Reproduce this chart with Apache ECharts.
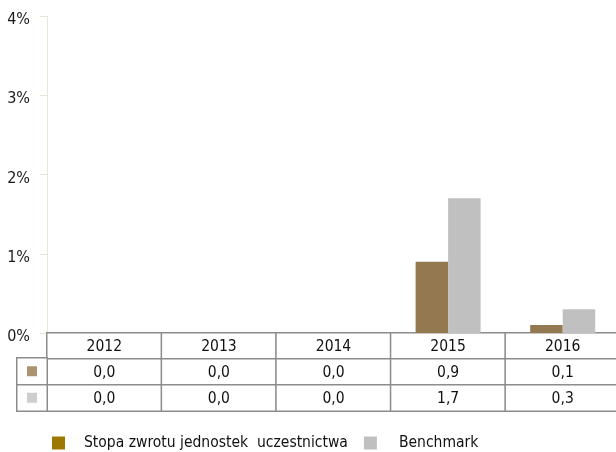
<!DOCTYPE html>
<html>
<head>
<meta charset="utf-8">
<script src="https://cdn.jsdelivr.net/npm/echarts@6/dist/echarts.min.js"></script>
<style>
html,body{margin:0;padding:0;background:#fff;}
#c{width:616px;height:452px;}
</style>
</head>
<body>
<div id="c"></div>
<script>
var categories = ['2012', '2013', '2014', '2015', '2016'];
var seriesNames = ['Stopa zwrotu jednostek  uczestnictwa', 'Benchmark'];
var fundValues = [0.0, 0.0, 0.0, 0.9, 0.1];
var benchValues = [0.0, 0.0, 0.0, 1.7, 0.3];
var yTicks = [0, 1, 2, 3, 4];

var FONT = '"DejaVu Sans Condensed", "DejaVu Sans", sans-serif';
var fundColor = '#947850';
var benchColor = '#c0c0c0';
var lineCol = '#8c8c8c';

function fmt(v) { return v.toFixed(1).replace('.', ','); }

var tableCells = [];
categories.forEach(function (c, i) {
  tableCells.push([i, 2, 0]);
  tableCells.push([i, 1, fundValues[i]]);
  tableCells.push([i, 0, benchValues[i]]);
});
var rowTexts = [
  benchValues.map(fmt),
  fundValues.map(fmt),
  categories
];

var chart = echarts.init(document.getElementById('c'));
chart.setOption({
  animation: false,
  backgroundColor: '#fff',
  textStyle: { fontFamily: FONT },
  legend: {
    left: 52, top: 435, padding: 0,
    icon: 'rect',
    itemWidth: 13, itemHeight: 13, itemGap: 16,
    selectedMode: false,
    data: [
      { name: seriesNames[0], itemStyle: { color: '#9c7800', borderWidth: 0 } },
      { name: seriesNames[1], itemStyle: { color: '#c0c0c0', borderWidth: 0 } }
    ],
    formatter: function (n) { return n === seriesNames[0] ? '{a|' + n + '}' : '{b|' + n + '}'; },
    textStyle: {
      fontFamily: FONT, fontSize: 15.5, color: '#111',
      rich: {
        a: { fontFamily: FONT, fontSize: 15.5, color: '#111', padding: [0, 0, 0, 14] },
        b: { fontFamily: FONT, fontSize: 15.5, color: '#111', padding: [0, 0, 0, 17] }
      }
    }
  },
  grid: [
    { left: 47, top: 16, width: 573, height: 317, outerBoundsMode: 'none' },
    { left: 47, top: 333, width: 573, height: 78, outerBoundsMode: 'none' },
    { left: 17, top: 358, width: 30, height: 53, outerBoundsMode: 'none' }
  ],
  xAxis: [
    {
      gridIndex: 0, type: 'category', data: categories,
      axisLine: { show: true, lineStyle: { color: '#7a7a7a', width: 2 } },
      axisTick: { show: false }, axisLabel: { show: false }, splitLine: { show: false }
    },
    {
      gridIndex: 1, type: 'category', data: categories,
      axisLine: { show: false }, axisTick: { show: false }, axisLabel: { show: false }, splitLine: { show: false }
    },
    {
      gridIndex: 2, type: 'category', data: ['m'],
      axisLine: { show: false }, axisTick: { show: false }, axisLabel: { show: false }, splitLine: { show: false }
    }
  ],
  yAxis: [
    {
      gridIndex: 0, type: 'value', min: 0, max: 4, interval: 1,
      axisLine: { show: true, lineStyle: { color: '#e8e4d6', width: 1 } },
      axisTick: { show: true, length: 7, lineStyle: { color: '#e8e4d6' } },
      splitLine: { show: false },
      axisLabel: {
        margin: 17, color: '#1a1a1a', fontFamily: FONT, fontSize: 16,
        formatter: function (v) { return yTicks.indexOf(v) >= 0 ? '{t|' + v + '%}' : ''; },
        rich: { t: { fontSize: 16, fontFamily: FONT, color: '#1a1a1a', padding: [8, 0, 0, 0] } }
      }
    },
    {
      gridIndex: 1, type: 'category', data: ['r0', 'r1', 'r2'],
      axisLine: { show: false }, axisTick: { show: false }, axisLabel: { show: false }, splitLine: { show: false }
    },
    {
      gridIndex: 2, type: 'category', data: ['r0', 'r1'],
      axisLine: { show: false }, axisTick: { show: false }, axisLabel: { show: false }, splitLine: { show: false }
    }
  ],
  series: [
    {
      name: seriesNames[0], type: 'bar', xAxisIndex: 0, yAxisIndex: 0,
      data: fundValues, barWidth: 32.5, barGap: '0%',
      itemStyle: { color: fundColor }
    },
    {
      name: seriesNames[1], type: 'bar', xAxisIndex: 0, yAxisIndex: 0,
      data: benchValues, barWidth: 32.5, barGap: '0%',
      itemStyle: { color: benchColor }
    },
    {
      type: 'heatmap', xAxisIndex: 1, yAxisIndex: 1, data: tableCells, z: 1,
      itemStyle: { color: '#fff', borderColor: lineCol, borderWidth: 1.5 },
      emphasis: { disabled: true },
      label: {
        show: true, fontSize: 15.5, color: '#111', fontFamily: FONT, offset: [0, 1],
        formatter: function (p) { return rowTexts[p.value[1]][p.value[0]]; }
      }
    },
    {
      type: 'heatmap', xAxisIndex: 2, yAxisIndex: 2, data: [[0, 0, 0], [0, 1, 0]], z: 1,
      itemStyle: { color: '#fff', borderColor: lineCol, borderWidth: 1.5 },
      emphasis: { disabled: true }, label: { show: false }
    },
    {
      type: 'scatter', xAxisIndex: 2, yAxisIndex: 2, symbol: 'rect', symbolSize: 10, z: 3,
      silent: true,
      data: [
        { value: [0, 1], itemStyle: { color: fundColor } },
        { value: [0, 0], itemStyle: { color: benchColor } }
      ]
    }
  ]
});
</script>
</body>
</html>
